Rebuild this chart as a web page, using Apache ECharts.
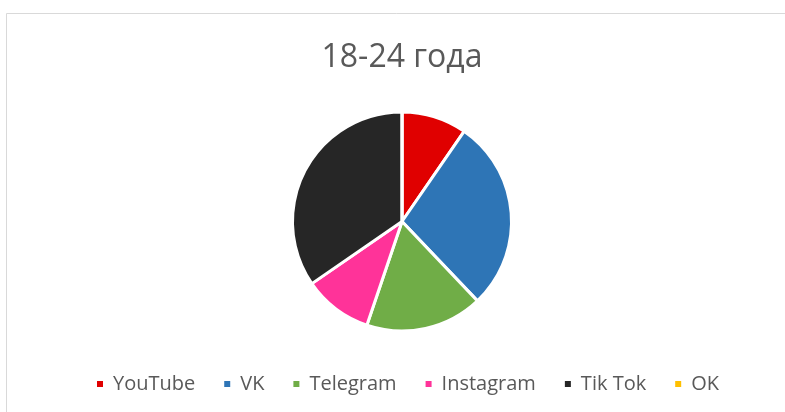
<!DOCTYPE html>
<html>
<head>
<meta charset="utf-8">
<script src="https://cdn.jsdelivr.net/npm/echarts@6/dist/echarts.min.js"></script>
<style>
html,body{margin:0;padding:0;background:#fff;}
#chart{width:785px;height:412px;}
</style>
</head>
<body>
<div id="chart"></div>
<script>
const titleText = '18-24 года';
const categories = ['YouTube', 'VK', 'Telegram', 'Instagram', 'Tik Tok', 'OK'];
const values = [9.6, 28.3, 17.3, 10.2, 34.6, 0];
const colors = ['#E00000', '#2E75B6', '#70AD47', '#FF3399', '#262626', '#FFC000'];

const chart = echarts.init(document.getElementById('chart'), null, {renderer: 'canvas'});
chart.setOption({
  animation: false,
  backgroundColor: '#ffffff',
  color: colors,
  graphic: [{
    type: 'rect',
    shape: {x: 6.5, y: 13.5, width: 900, height: 500},
    style: {fill: null, stroke: '#d9d9d9', lineWidth: 1},
    silent: true,
    z: -1
  }],
  title: {
    text: titleText,
    left: 402,
    textAlign: 'center',
    top: 42,
    padding: 0,
    textStyle: {fontFamily: 'Open Sans', fontSize: 32, fontWeight: 'normal', color: '#595959'}
  },
  legend: {
    data: categories,
    left: 95,
    top: 374,
    padding: 0,
    icon: 'rect',
    itemWidth: 8,
    itemHeight: 8,
    itemGap: 27,
    textStyle: {fontFamily: 'Open Sans', fontSize: 20, color: '#595959', padding: [0, 0, 0, 4]}
  },
  series: [{
    type: 'pie',
    center: [402, 221.5],
    radius: 109.5,
    startAngle: 90,
    clockwise: true,
    label: {show: false},
    labelLine: {show: false},
    emphasis: {disabled: true},
    itemStyle: {borderColor: '#ffffff', borderWidth: 3},
    data: categories.map((c, i) => ({name: c, value: values[i]}))
  }]
});
</script>
</body>
</html>
